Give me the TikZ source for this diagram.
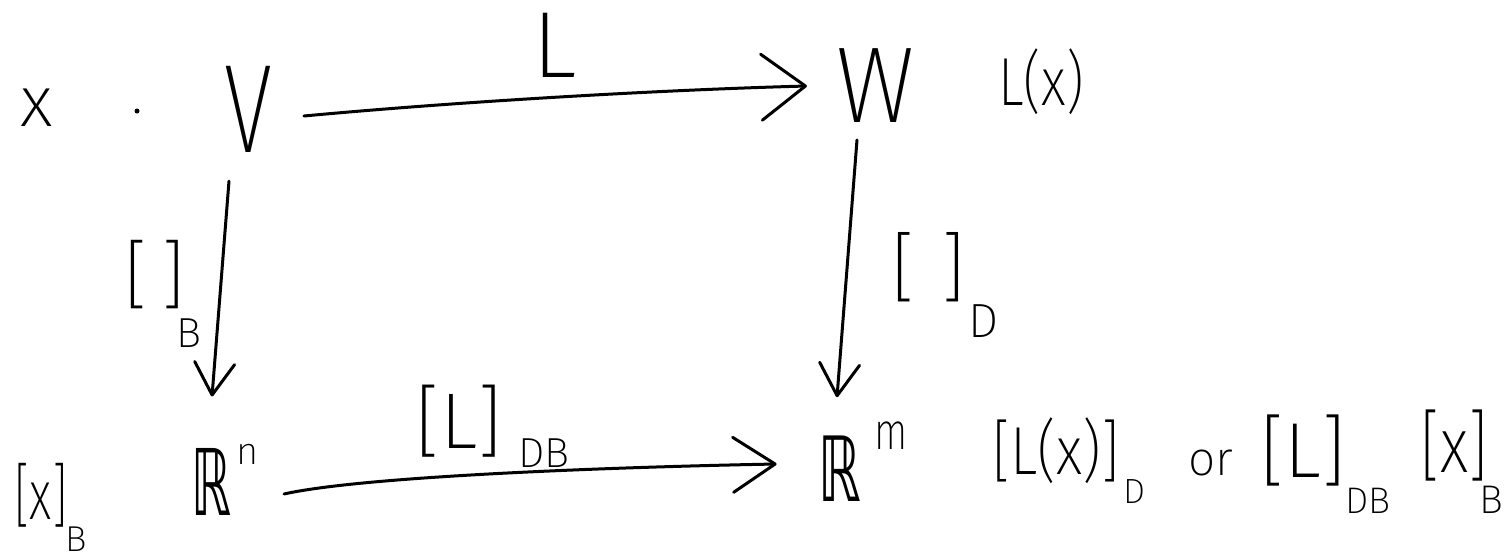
\documentclass[tikz,border=0pt]{standalone}
\usepackage{fontspec}
\IfFontExistsTF{Fira Sans ExtraLight}{\setmainfont{Fira Sans ExtraLight}}{%
  \IfFontExistsTF{Fira Sans Light}{\setmainfont{Fira Sans Light}}{\setmainfont{DejaVu Sans}}}
\newfontfamily\bbfont{DejaVu Sans}
\usetikzlibrary{arrows.meta,calc}
\newcommand\hw[1]{\fontsize{#1}{#1}\selectfont}
\newcommand\sx[2]{\scalebox{#1}[1]{#2}}
\begin{document}
\begin{tikzpicture}[x=1pt,y=-1pt,
  lab/.style={inner sep=0pt, outer sep=0pt, text=black},
  stroke/.style={line width=3pt, line cap=round, line join=round, draw=black},
  bighead/.style={-{Straight Barb[length=44pt,width=66pt,round]}},
  midhead/.style={-{Straight Barb[length=42pt,width=55pt,round]}},
  smallhead/.style={-{Straight Barb[length=32pt,width=40pt,round]}}]
\useasboundingbox[fill=white] (0,0) rectangle (1505,558);
% top row
\node[lab] (x) at (37,108) {\hw{72}x};
\node[circle, fill=black, inner sep=0pt, minimum size=5pt] (dot) at (137,111) {};
\node[lab] (V) at (248,109) {\hw{126}\sx{0.7}{V}};
\node[lab] (Lt) at (555,45) {\hw{94}L};
\node[lab] (W) at (876,86) {\hw{108}\sx{0.9}{W}};
\node[lab] (Lx) at (1041,82) {\hw{68}\sx{0.8}{L(x)}};
% vertical labels
\node[lab] (bB) at (155,275) {\hw{75}[\kern14pt]};
\node[lab] (bBs) at (189,333) {\hw{42}B};
\node[lab] (bD) at (928,267) {\hw{76}[\kern26pt]};
\node[lab] (bDs) at (984,321) {\hw{48}D};
% bottom row
\node[lab] (Rn) at (212,482) {\hw{92}\bbfont\sx{0.55}{ℝ}};
\node[lab] (Rns) at (248,454) {\hw{38}n};
\node[lab] (Rm) at (840,469) {\hw{90}\bbfont\sx{0.6}{ℝ}};
\node[lab] (Rms) at (891,436) {\hw{52}\sx{0.75}{m}};
\node[lab] (LDB) at (459,421) {\hw{79}[L]};
\node[lab] (LDBs) at (544,453) {\hw{42}DB};
\node[lab] (xB) at (41,495) {\hw{70}\sx{0.7}{[x]}};
\node[lab] (xBs) at (76,539) {\hw{36}B};
\node[lab] (LxD) at (1056,451) {\hw{68}\sx{0.85}{[L(x)]}};
\node[lab] (LxDs) at (1134,492) {\hw{35}D};
\node[lab] (or) at (1211,463) {\hw{48}or};
\node[lab] (LDBr) at (1303,451) {\hw{78}[L]};
\node[lab] (LDBrs) at (1368,501) {\hw{37}DB};
\node[lab] (xBr) at (1454,446) {\hw{78}\sx{0.8}{[x]}};
\node[lab] (xBrs) at (1491,500) {\hw{40}B};
% arrows
\draw[stroke, bighead] ($(V.east)+(32,7)$) .. controls +(150,-14) and +(-150,4) .. ($(W.west)+(-30,0)$);
\draw[stroke, smallhead] ($(V.south)+(-19,29)$) -- ($(Rn.north)+(0,-52)$);
\draw[stroke, smallhead] ($(W.south)+(-19,17)$) -- ($(Rm.north)+(-3,-39)$);
\draw[stroke, midhead] ($(Rn.east)+(52,12)$) .. controls +(80,-18) and +(-160,3) .. ($(Rm.west)+(-42,-5)$);
\end{tikzpicture}
\end{document}
